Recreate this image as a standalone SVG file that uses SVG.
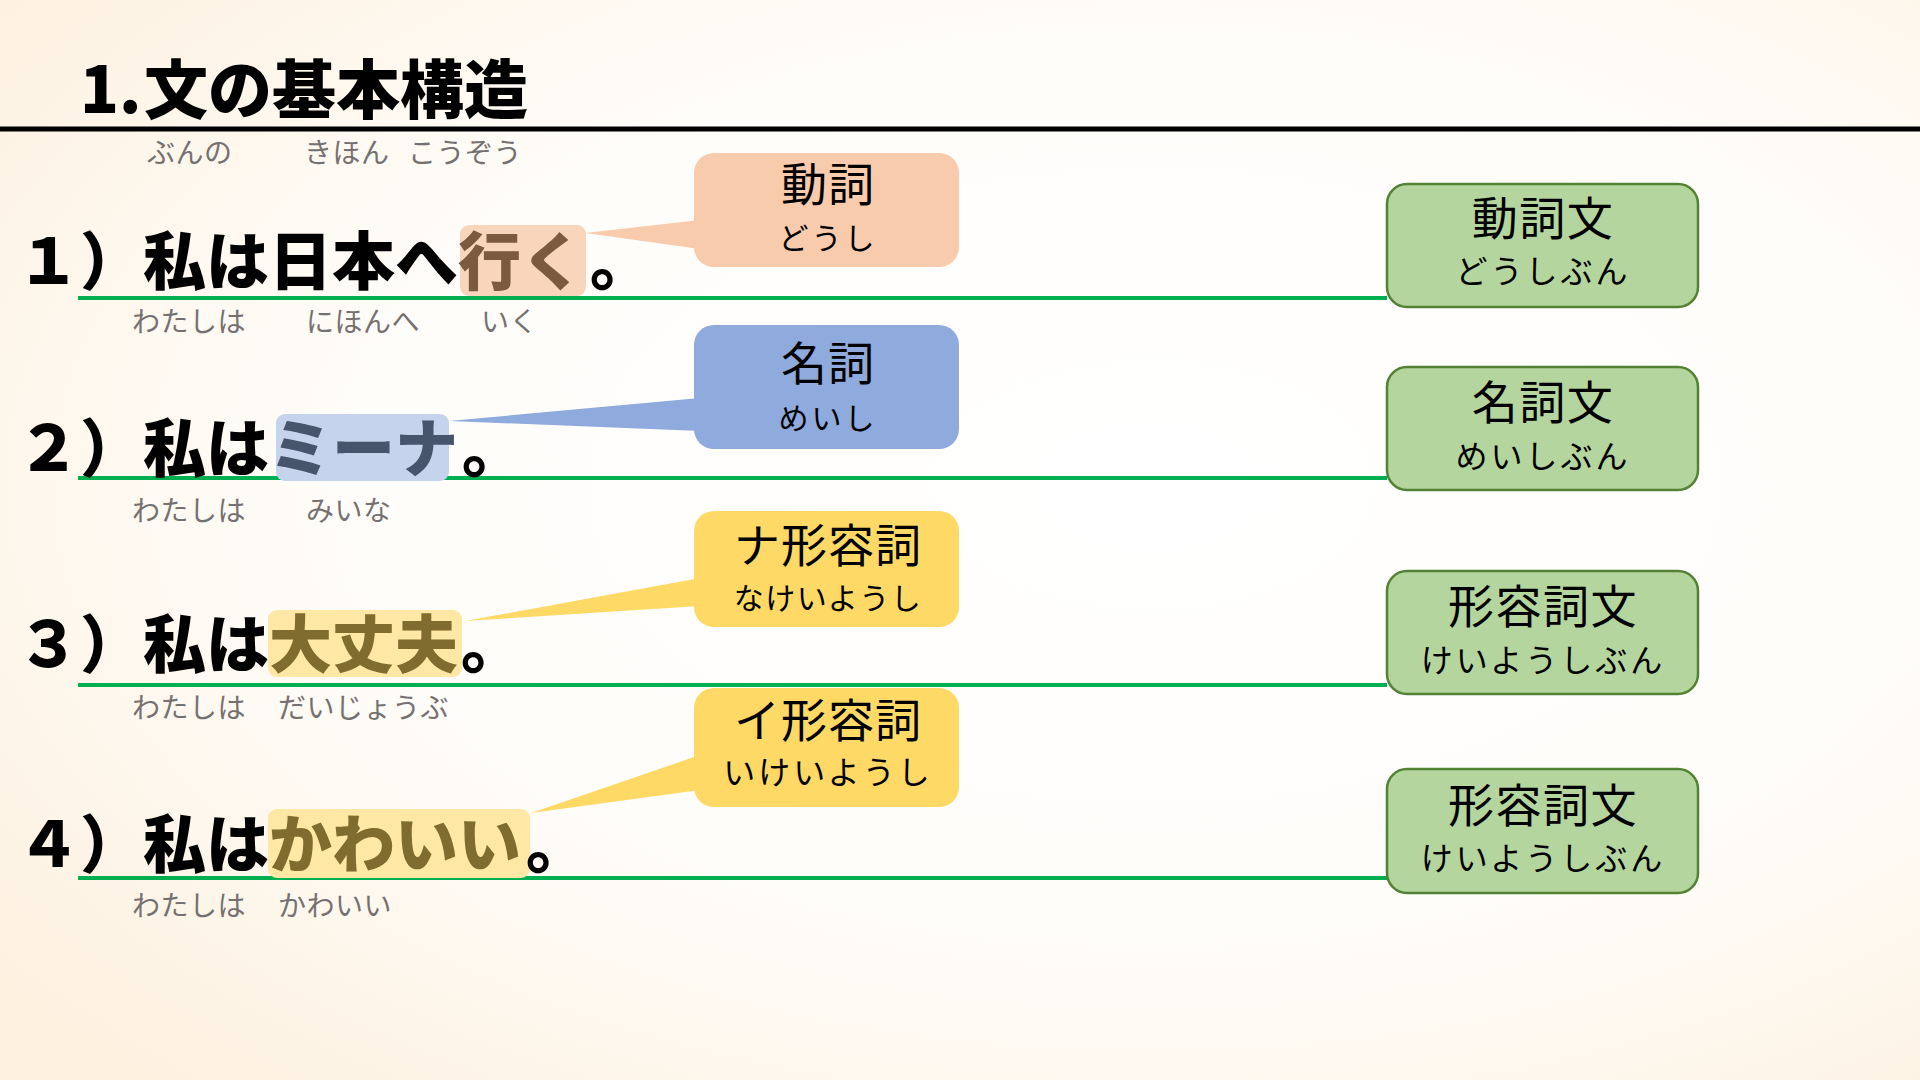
<svg xmlns="http://www.w3.org/2000/svg" width="1920" height="1080" viewBox="0 0 1920 1080">
<defs>
<radialGradient id="bg" cx="0.6" cy="0.45" r="0.75">
<stop offset="0" stop-color="#FFFFFF"/>
<stop offset="0.55" stop-color="#FFFDFA"/>
<stop offset="1" stop-color="#FDF1E0"/>
</radialGradient>
<style>
text{font-family:"Noto Sans CJK JP","Noto Sans CJK SC",sans-serif;}
.title{font-size:64px;font-weight:900;fill:#000;}
.sent{font-size:63px;font-weight:900;fill:#000;}
.furi{font-size:28px;fill:#767171;letter-spacing:0.5px;}
.ck{font-size:46px;fill:#000;text-anchor:middle;letter-spacing:1px;}
.cr{font-size:30px;fill:#000;text-anchor:middle;letter-spacing:3px;}
.gk{font-size:46px;fill:#000;text-anchor:middle;letter-spacing:1.5px;}
.gr{font-size:32px;fill:#000;text-anchor:middle;letter-spacing:3px;}
.gbox{fill:#B5D59E;stroke:#548235;stroke-width:2.5;}
.conn{stroke:#00B050;stroke-width:4;fill:none;}
</style>
</defs>
<rect x="0" y="0" width="1920" height="1080" fill="url(#bg)"/>

<g id="title">
<text class="title" y="113"><tspan x="80">1.</tspan><tspan x="144">文の基本構造</tspan></text>
<line x1="0" y1="129" x2="1920" y2="129" stroke="#000" stroke-width="5"/>
<text class="furi" y="163"><tspan x="147">ぶんの</tspan><tspan x="304">きほん</tspan><tspan x="408">こうぞう</tspan></text>
</g>

<g id="connectors">
<line class="conn" x1="78" y1="298" x2="1387" y2="298"/>
<line class="conn" x1="78" y1="478" x2="1387" y2="478"/>
<line class="conn" x1="78" y1="685" x2="1387" y2="685"/>
<line class="conn" x1="78" y1="878" x2="1387" y2="878"/>
</g>

<g id="sentence1">
<rect x="460" y="225" width="126" height="71" rx="9" fill="#F8D5BB"/>
<text class="sent" x="17" y="284">１）私は日本へ<tspan fill="#7B5A40">行く</tspan><tspan x="590">。</tspan></text>
<text class="furi" y="332"><tspan x="132">わたしは</tspan><tspan x="306">にほんへ</tspan><tspan x="481">いく</tspan></text>
</g>

<g id="sentence2">
<rect x="276" y="414" width="173" height="67" rx="9" fill="#C5D3EC"/>
<text class="sent" x="17" y="471">２）私は<tspan fill="#46546C">ミーナ</tspan><tspan x="462">。</tspan></text>
<text class="furi" y="521"><tspan x="132">わたしは</tspan><tspan x="306">みいな</tspan></text>
</g>

<g id="sentence3">
<rect x="268" y="610" width="194" height="67" rx="9" fill="#FFE8A6"/>
<text class="sent" x="17" y="667">３）私は<tspan fill="#806C2E">大丈夫</tspan><tspan x="461">。</tspan></text>
<text class="furi" y="718"><tspan x="132">わたしは</tspan><tspan x="278">だいじょうぶ</tspan></text>
</g>

<g id="sentence4">
<rect x="268" y="809" width="262" height="69" rx="9" fill="#FFE8A6"/>
<text class="sent" x="17" y="867">４）私は<tspan fill="#806C2E">かわいい</tspan><tspan x="526">。</tspan></text>
<text class="furi" y="916"><tspan x="132">わたしは</tspan><tspan x="278">かわいい</tspan></text>
</g>

<g id="callout-doushi">
<polygon points="585,233 700,220 700,249" fill="#F8CBAD"/>
<rect x="694" y="153" width="265" height="114" rx="20" fill="#F8CBAD"/>
<text class="ck" x="828" y="201">動詞</text>
<text class="cr" x="828" y="249">どうし</text>
</g>

<g id="callout-meishi">
<polygon points="449,421 700,398 700,431" fill="#8FAADC"/>
<rect x="694" y="325" width="265" height="124" rx="20" fill="#8FAADC"/>
<text class="ck" x="828" y="380">名詞</text>
<text class="cr" x="828" y="429">めいし</text>
</g>

<g id="callout-na">
<polygon points="465,621 700,578 700,606" fill="#FFD966"/>
<rect x="694" y="511" width="265" height="116" rx="20" fill="#FFD966"/>
<text class="ck" x="828" y="562">ナ形容詞</text>
<text class="cr" x="828" y="609" style="letter-spacing:1.5px">なけいようし</text>
</g>

<g id="callout-i">
<polygon points="531,813 700,755 700,790" fill="#FFD966"/>
<rect x="694" y="688" width="265" height="119" rx="20" fill="#FFD966"/>
<text class="ck" x="828" y="737">イ形容詞</text>
<text class="cr" x="828" y="784" style="font-size:32px;letter-spacing:3px">いけいようし</text>
</g>

<g id="box-doushibun">
<rect class="gbox" x="1387" y="184" width="311" height="123" rx="20"/>
<text class="gk" x="1543" y="235">動詞文</text>
<text class="gr" x="1543" y="283">どうしぶん</text>
</g>

<g id="box-meishibun">
<rect class="gbox" x="1387" y="367" width="311" height="123" rx="20"/>
<text class="gk" x="1543" y="419">名詞文</text>
<text class="gr" x="1543" y="468">めいしぶん</text>
</g>

<g id="box-keiyoushibun-1">
<rect class="gbox" x="1387" y="571" width="311" height="123" rx="20"/>
<text class="gk" x="1543" y="623">形容詞文</text>
<text class="gr" x="1543" y="672">けいようしぶん</text>
</g>

<g id="box-keiyoushibun-2">
<rect class="gbox" x="1387" y="769" width="311" height="124" rx="20"/>
<text class="gk" x="1543" y="822">形容詞文</text>
<text class="gr" x="1543" y="870">けいようしぶん</text>
</g>
</svg>
